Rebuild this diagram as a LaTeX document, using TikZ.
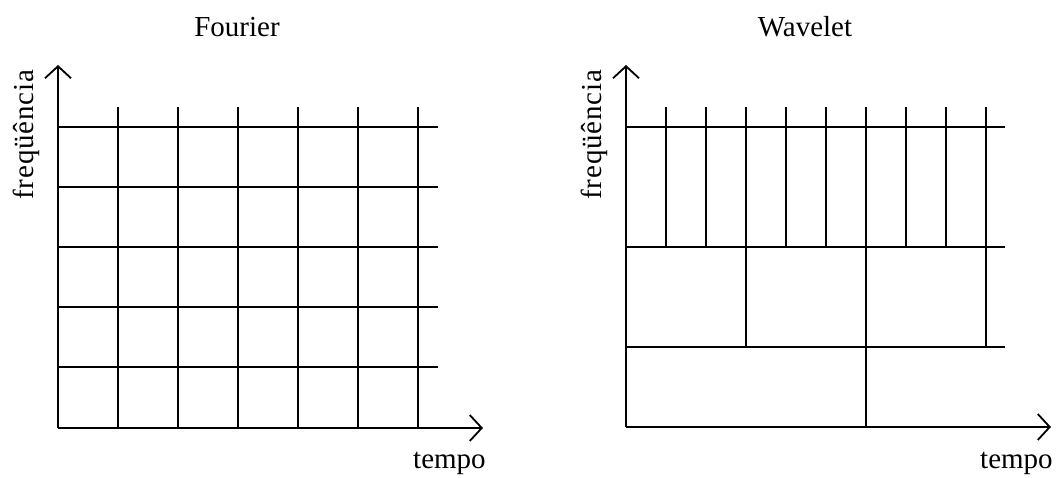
\documentclass[tikz,border=0pt]{standalone}
\usepackage{fontspec}
\setmainfont{Liberation Serif}
\newfontfamily\spacedserif[LetterSpace=3]{Liberation Serif}
\usetikzlibrary{arrows.meta}
\begin{document}
\begin{tikzpicture}[x=1pt,y=-1pt,
  gridline/.style={line width=1.8pt,line cap=rect},
  axisline/.style={line width=1.8pt,-{Straight Barb[length=12pt,width=26pt,line width=1.8pt]}},
  lbl/.style={inner sep=0pt,font=\fontsize{29}{30}\selectfont},
  vlbl/.style={inner sep=0pt,font=\spacedserif\fontsize{29}{30}\selectfont,anchor=base west,rotate=90}]
\useasboundingbox (0,0) rectangle (1060,478);
% ---------- Fourier ----------
\node[lbl,anchor=base] (tf) at (237,37) {Fourier};
\node[vlbl] (ff) at (33,200) {freqüência};
\node[lbl,anchor=base west] (tpf) at (413,468) {tempo};
\coordinate (of) at (58,428);
\coordinate (yf) at (58,65);
\coordinate (xf) at (483,428);
\foreach \y in {127,187,247,307,367}
  \draw[gridline] (58,\y) -- (437,\y);
\foreach \x in {118,178,...,418}
  \draw[gridline] (\x,108) -- (\x,428);
\draw[axisline] (of) -- (yf);
\draw[axisline] (of) -- (xf);
% ---------- Wavelet ----------
\node[lbl,anchor=base] (tw) at (805,37) {Wavelet};
\node[vlbl] (fw) at (601,200) {freqüência};
\node[lbl,anchor=base west] (tpw) at (980,468) {tempo};
\coordinate (ow) at (626,427);
\coordinate (yw) at (626,65);
\coordinate (xw) at (1051,427);
\foreach \y in {127,247,347}
  \draw[gridline] (626,\y) -- (1004,\y);
\foreach \x in {666,706,786,826,906,946}
  \draw[gridline] (\x,108) -- (\x,247);
\foreach \x in {746,986}
  \draw[gridline] (\x,108) -- (\x,347);
\draw[gridline] (866,108) -- (866,427);
\draw[axisline] (ow) -- (yw);
\draw[axisline] (ow) -- (xw);
\end{tikzpicture}
\end{document}
